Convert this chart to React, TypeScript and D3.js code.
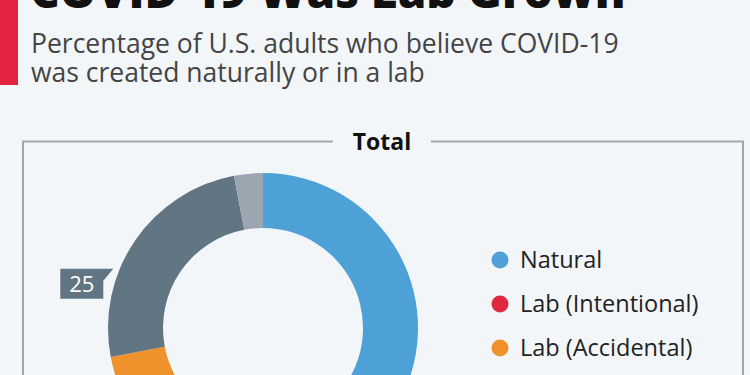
import * as d3 from 'd3';
import React, { useEffect, useRef } from 'react';

const categories = ['Natural', 'Lab (Intentional)', 'Lab (Accidental)', "Don't know", 'Other'];
const shares = [34, 20, 18, 25, 3];
const colors = ['#4ea1d7', '#e0283f', '#f0922b', '#627582', '#9ba6b0'];
const legendItems = ['Natural', 'Lab (Intentional)', 'Lab (Accidental)'];
const labelledSlice = "Don't know";

const App = () => {
    const ref = useRef(null);
    const width = 750;
    const height = 375;

    useEffect(() => {
        if (!ref.current) return;
        d3.select(ref.current).selectAll('*').remove();
        const svg = d3.select(ref.current)
            .append('svg')
            .attr('width', width)
            .attr('height', height)
            .style('display', 'block')
            .style('font-family', "'Open Sans', sans-serif");

        svg.append('rect').attr('width', width).attr('height', height).attr('fill', '#f3f6f9');

        // title block (cropped at the top)
        svg.append('rect').attr('x', 0).attr('y', 0).attr('width', 18).attr('height', 85).attr('fill', '#e3233f');
        svg.append('text')
            .attr('x', 30).attr('y', 8)
            .attr('font-size', 46).attr('font-weight', 800).attr('fill', '#111')
            .text('COVID-19 Was Lab Grown');
        const sub = svg.append('text').attr('font-size', 26.5).attr('fill', '#444');
        sub.append('tspan').attr('x', 31).attr('y', 53).text('Percentage of U.S. adults who believe COVID-19');
        sub.append('tspan').attr('x', 31).attr('y', 82).text('was created naturally or in a lab');

        // frame with "Total" heading
        svg.append('path')
            .attr('d', 'M23,380 L23,141.5 L333,141.5 M431,141.5 L743,141.5 L743,380')
            .attr('fill', 'none').attr('stroke', '#a3a7ab').attr('stroke-width', 2);
        svg.append('text')
            .attr('x', 382).attr('y', 150).attr('text-anchor', 'middle')
            .attr('font-size', 23).attr('font-weight', 700).attr('fill', '#111')
            .text('Total');

        // donut
        const cx = 263, cy = 328, outer = 155, inner = 100;
        const pie = d3.pie().sort(null).value(d => d.value);
        const arcs = pie(categories.map((c, i) => ({ name: c, value: shares[i], color: colors[i] })));
        const arc = d3.arc().innerRadius(inner).outerRadius(outer);
        const g = svg.append('g').attr('transform', `translate(${cx},${cy})`);
        g.selectAll('path').data(arcs).enter().append('path')
            .attr('d', arc)
            .attr('fill', d => d.data.color);

        // value label with pointer
        const lab = arcs.find(d => d.data.name === labelledSlice);
        const ang = lab.startAngle + (lab.endAngle - lab.startAngle) * 0.36;
        const tx = Math.sin(ang) * (outer + 6);
        const ty = -Math.cos(ang) * (outer + 6);
        const bw = 43, bh = 30;
        const bx = tx - 53, by = ty;
        g.append('path')
            .attr('d', `M${bx},${by} L${tx},${ty} L${bx + bw},${by + 12} L${bx + bw},${by + bh} L${bx},${by + bh} Z`)
            .attr('fill', '#627582');
        g.append('text')
            .attr('x', bx + bw / 2).attr('y', by + 23.5)
            .attr('text-anchor', 'middle')
            .attr('font-size', 22).attr('fill', '#fff')
            .text(lab.data.value);

        // legend
        const legend = svg.selectAll('.legend')
            .data(legendItems)
            .enter().append('g')
            .attr('class', 'legend')
            .attr('transform', (d, i) => `translate(500,${260 + i * 44})`);
        legend.append('circle')
            .attr('r', 8.5)
            .attr('fill', d => colors[categories.indexOf(d)]);
        legend.append('text')
            .attr('x', 20).attr('y', 8)
            .attr('font-size', 23.5).attr('fill', '#222')
            .text(d => d);
    }, []);

    return (
        <div ref={ref} style={{ position: 'fixed', left: 0, top: 0, width: 750, height: 375, overflow: 'hidden' }} />
    );
};

export default App;
